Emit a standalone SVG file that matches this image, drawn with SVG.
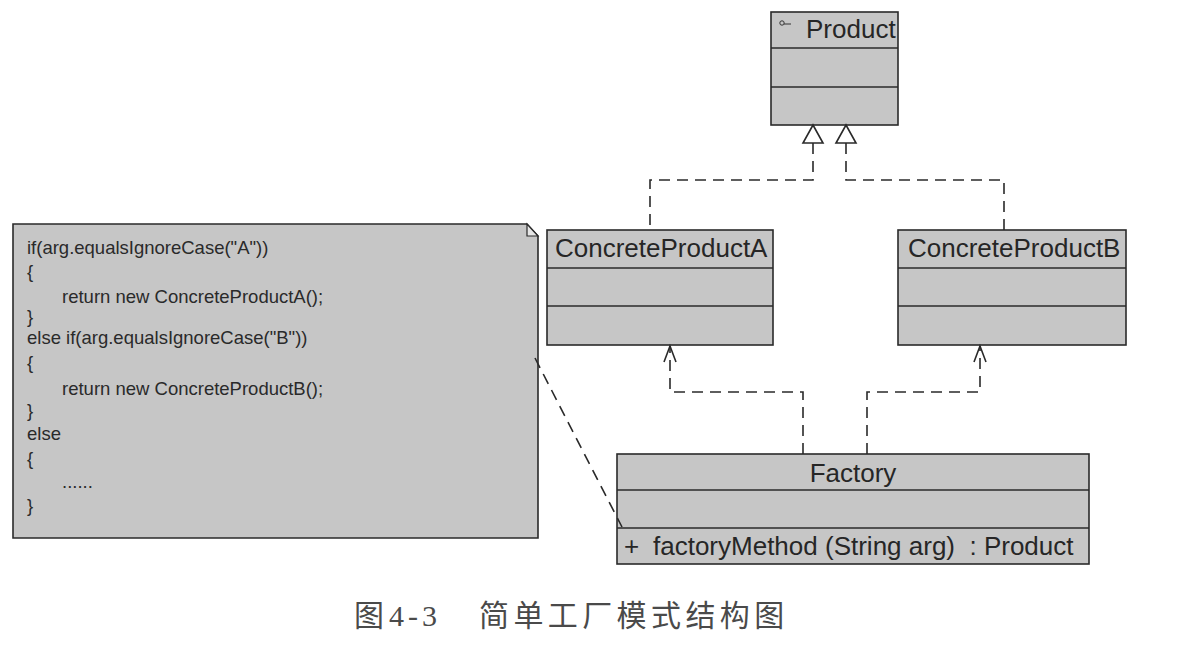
<svg xmlns="http://www.w3.org/2000/svg" width="1195" height="647" viewBox="0 0 1195 647">
<style>
.box{fill:#c6c6c6;stroke:#2a2a2a;stroke-width:1.6}
.div{stroke:#2a2a2a;stroke-width:1.6}
.cls{font-family:"Liberation Sans",Arial,sans-serif;font-size:26px;fill:#262626}
.code{font-family:"Liberation Sans",Arial,sans-serif;font-size:18.5px;fill:#2a2a2a}
.dash{fill:none;stroke:#2a2a2a;stroke-width:1.6;stroke-dasharray:11 7}
.head{fill:#ffffff;stroke:#2a2a2a;stroke-width:1.6}
.open{fill:none;stroke:#2a2a2a;stroke-width:1.6}
.cap{font-size:30px;fill:#4a4a4a}
</style>
<rect width="1195" height="647" fill="#ffffff"/>

<g id="note">
<path class="box" d="M13,224 L527,224 L538,236 L538,538 L13,538 Z"/>
<path d="M527,224 L527,236 L538,236 Z" fill="#e6e6e6" stroke="#2a2a2a" stroke-width="1.2"/>
<text class="code" x="27" y="254">if(arg.equalsIgnoreCase("A"))</text>
<text class="code" x="27" y="278">{</text>
<text class="code" x="62" y="303">return new ConcreteProductA();</text>
<text class="code" x="27" y="323">}</text>
<text class="code" x="27" y="344">else if(arg.equalsIgnoreCase("B"))</text>
<text class="code" x="27" y="369">{</text>
<text class="code" x="62" y="395">return new ConcreteProductB();</text>
<text class="code" x="27" y="417">}</text>
<text class="code" x="27" y="440">else</text>
<text class="code" x="27" y="465">{</text>
<text class="code" x="62" y="488">......</text>
<text class="code" x="27" y="512">}</text>
</g>

<g id="Product">
<rect class="box" x="771" y="12" width="127" height="113"/>
<line class="div" x1="771" y1="48" x2="898" y2="48"/>
<line class="div" x1="771" y1="87" x2="898" y2="87"/>
<circle cx="782" cy="23" r="2.2" fill="none" stroke="#333" stroke-width="1"/>
<line x1="784" y1="24" x2="791" y2="24" stroke="#333" stroke-width="1"/>
<text class="cls" x="806" y="38" font-size="25">Product</text>
</g>

<g id="ConcreteProductA">
<rect class="box" x="547" y="230" width="226" height="115"/>
<line class="div" x1="547" y1="268" x2="773" y2="268"/>
<line class="div" x1="547" y1="306" x2="773" y2="306"/>
<text class="cls" x="555" y="257">ConcreteProductA</text>
</g>

<g id="ConcreteProductB">
<rect class="box" x="898" y="230" width="228" height="115"/>
<line class="div" x1="898" y1="268" x2="1126" y2="268"/>
<line class="div" x1="898" y1="306" x2="1126" y2="306"/>
<text class="cls" x="908" y="257">ConcreteProductB</text>
</g>

<g id="Factory">
<rect class="box" x="617" y="454" width="472" height="110"/>
<line class="div" x1="617" y1="490" x2="1089" y2="490"/>
<line class="div" x1="617" y1="528" x2="1089" y2="528"/>
<text class="cls" x="853" y="482" text-anchor="middle">Factory</text>
<text class="cls" x="624" y="555">+</text>
<text class="cls" x="653" y="555" xml:space="preserve">factoryMethod (String arg)  : Product</text>
</g>

<g id="connectors">
<path class="dash" d="M813,143 L813,180 L650,180 L650,230"/>
<path class="dash" d="M846,143 L846,180 L1004,180 L1004,230"/>
<path class="head" d="M813,125 L823,143 L803,143 Z"/>
<path class="head" d="M846,125 L856,143 L836,143 Z"/>
<path class="dash" d="M803,454 L803,392 L670,392 L670,346"/>
<path class="open" d="M664,362 L670,346 L676,362"/>
<path class="dash" d="M867,454 L867,392 L980,392 L980,346"/>
<path class="open" d="M974,362 L980,346 L986,362"/>
<path class="dash" d="M535,358 L622,527"/>
</g>

<g id="caption">
<text class="cap" x="354" y="626" font-family="'Noto Sans CJK SC',sans-serif">图</text>
<text class="cap" x="389" y="626" font-family="'Liberation Serif',serif" letter-spacing="4">4-3</text>
<text class="cap" x="479" y="626" font-family="'Noto Sans CJK SC',sans-serif" letter-spacing="4.4">简单工厂模式结构图</text>
</g>
</svg>
